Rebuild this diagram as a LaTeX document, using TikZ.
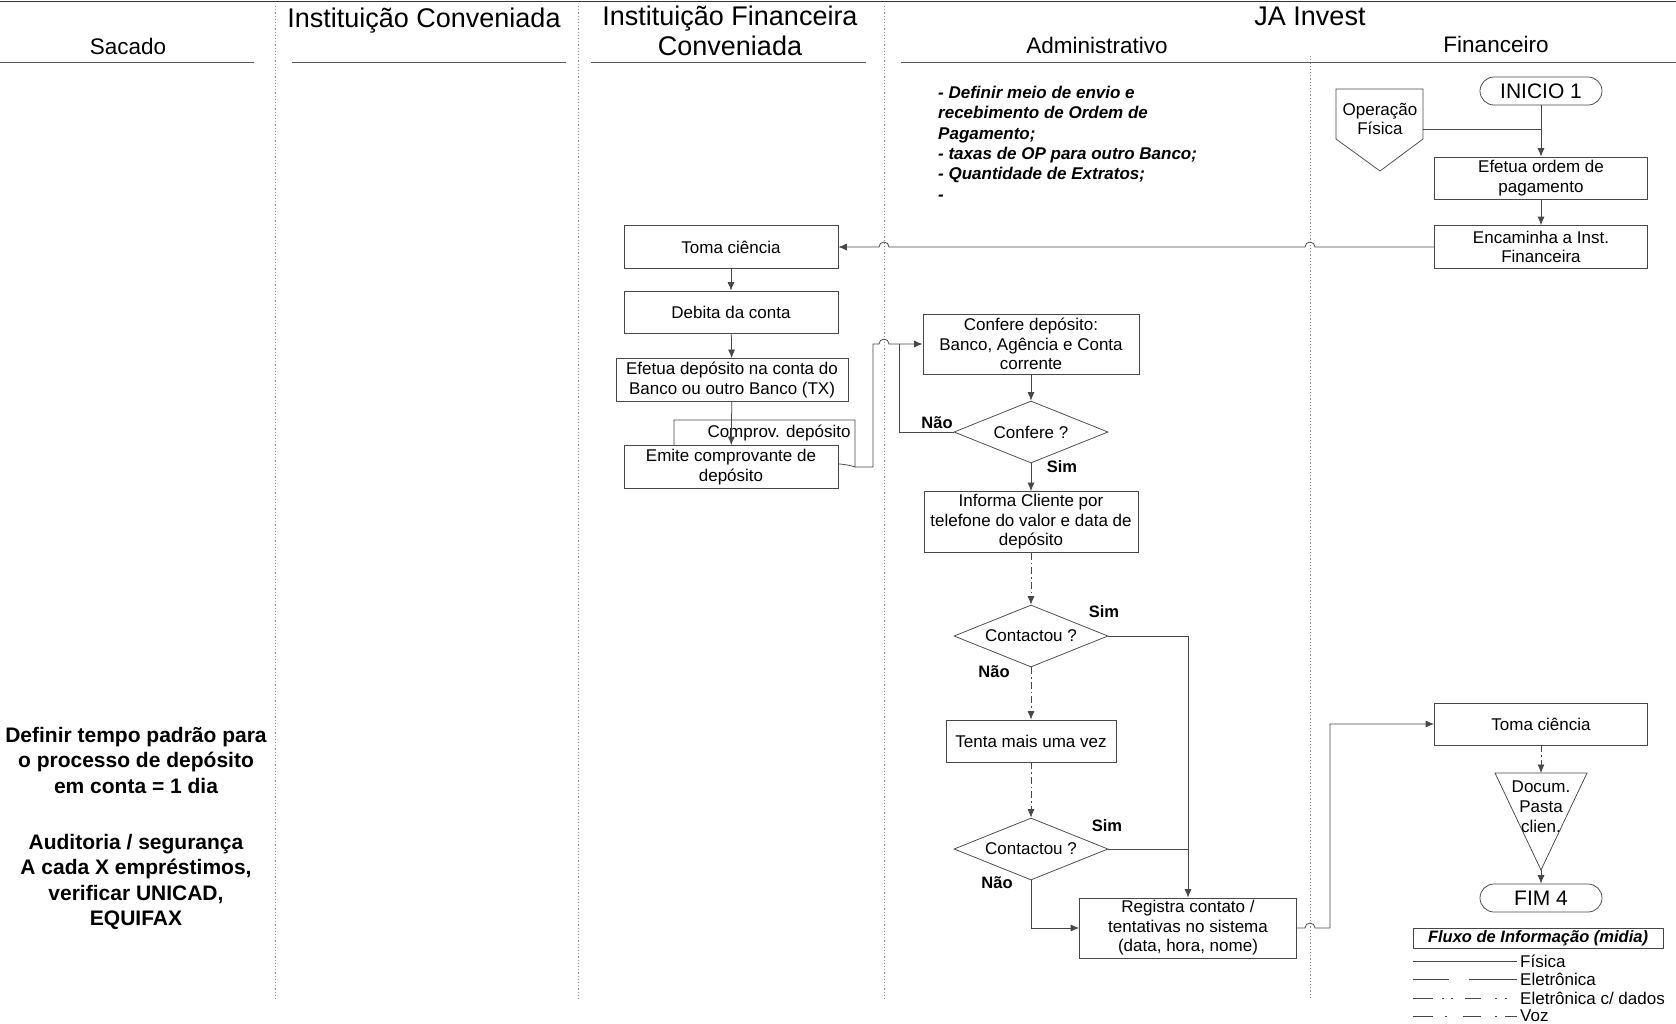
\documentclass[tikz,border=0pt]{standalone}
\usepackage{fontspec}
\setmainfont{Liberation Sans}
\usetikzlibrary{arrows.meta,shapes.geometric,calc}

\tikzset{
  ln/.style={draw=black!72, line width=0.75pt},
  flow/.style={ln, -{Latex[length=8.5pt,width=7pt]}},
  voz/.style={dash pattern=on 7pt off 3pt on 1.5pt off 3pt},
  stepbox/.style={ln, fill=white, align=center, inner sep=1pt,
    font=\fontsize{17}{19.5}\selectfont},
  term/.style={ln, fill=white, rounded corners=14pt, minimum width=122pt,
    minimum height=28pt, inner sep=0pt, font=\fontsize{21}{24}\selectfont},
  dia/.style={ln, fill=white, diamond, inner sep=0pt, minimum width=154pt,
    minimum height=62pt, label={[font=\fontsize{17}{20}\selectfont]center:#1}},
  yn/.style={font=\bfseries\fontsize{16.5}{19}\selectfont, inner sep=1pt},
  lane/.style={draw=black!45, line width=0.6pt, dash pattern=on 1.2pt off 2pt},
  hdr/.style={font=\fontsize{27}{30}\selectfont, align=center, inner sep=0pt},
  subhdr/.style={font=\fontsize{22.5}{26}\selectfont, inner sep=0pt},
  rule/.style={draw=black!65, line width=0.8pt},
  notebold/.style={font=\bfseries\fontsize{21}{25.5}\selectfont, align=center},
}

\begin{document}
\begin{tikzpicture}[x=1pt,y=-1pt]
\useasboundingbox (0,0) rectangle (1676,1023);
\fill[white] (0,0) rectangle (1676,1023);

% ---------- lanes and headers ----------
\coordinate (d1) at (275,0);
\coordinate (d2) at (578,0);
\coordinate (d3) at (884,0);
\coordinate (d4) at (1310,0);
\draw[lane] (275,6) -- (275,1000);
\draw[lane] (578,6) -- (578,1000);
\draw[lane] (884,6) -- (884,1000);
\draw[lane] (1310,56) -- (1310,1000);

\draw[draw=black!80, line width=1.5pt] (0,1.5) -- (1676,1.5);

\node[subhdr] (hSac) at (128,46) {Sacado};
\node[hdr] (hIC) at (424,21) {Instituição Conveniada};
\node[hdr] (hIFC) at (730,31) {Instituição Financeira\\Conveniada};
\node[hdr] (hJA) at (1310,16) {JA Invest};
\node[subhdr] (hAdm) at (1097,45) {Administrativo};
\node[subhdr] (hFin) at (1496,44) {Financeiro};

\draw[rule] (0,62) -- (254,62);
\draw[rule] (292,62) -- (566,62);
\draw[rule] (591,62) -- (866,62);
\draw[rule] (901,62) -- (1676,62);

% ---------- notes ----------
\node[anchor=north west, align=left, inner sep=0pt,
      font=\bfseries\itshape\fontsize{17}{20.3}\selectfont] (nota) at (938,86)
  {- Definir meio de envio e\\recebimento de Ordem de\\Pagamento;\\- taxas de OP para outro Banco;\\- Quantidade de Extratos;\\-};

\node[notebold] (tempo) at (136,760)
  {Definir tempo padrão para\\o processo de depósito\\em conta = 1 dia};
\node[notebold] (audit) at (136,882)
  {Auditoria / segurança\\A cada X empréstimos,\\verificar UNICAD,\\EQUIFAX};

% ---------- Financeiro: start ----------
\node[term] (inicio) at (1541,91) {INICIO 1};

\draw[ln, fill=white] (1336,89) -- (1423,89) -- (1423,139) -- (1380,171) -- (1336,139) -- cycle;
\node[align=center, inner sep=0pt, font=\fontsize{17}{19}\selectfont] (opf) at (1380,119) {Operação\\Física};
\coordinate (opf-e) at (1423,129);

\node[stepbox, minimum width=213pt, minimum height=42pt] (ordem) at (1541,178) {Efetua ordem de\\pagamento};
\node[stepbox, minimum width=213pt, minimum height=43pt] (enc) at (1541,247) {Encaminha a Inst.\\Financeira};

% ---------- Instituicao Financeira Conveniada ----------
\node[stepbox, minimum width=214pt, minimum height=43pt] (toma1) at (731,247) {Toma ciência};
\node[stepbox, minimum width=214pt, minimum height=42pt] (debita) at (731,312) {Debita da conta};
\node[stepbox, minimum width=232pt, minimum height=43pt] (efdep) at (732,380) {Efetua depósito na conta do\\Banco ou outro Banco (TX)};

% deposit slip (document shape) behind the issuing step
\draw[ln, fill=white] (674,470) -- (674,420) -- (855,420) -- (855,467)
  .. controls (820,455) and (760,480) .. (674,466);
\node[inner sep=0pt, font=\fontsize{17}{19}\selectfont] (comprov) at (779,433) {Comprov. depósito};
\coordinate (comp-se) at (855,467);

\node[stepbox, minimum width=214pt, minimum height=43pt] (emite) at (731,467) {Emite comprovante de\\depósito};

% ---------- Administrativo ----------
\node[stepbox, minimum width=216pt, minimum height=60pt] (confdep) at (1031,344) {Confere depósito:\\Banco, Agência e Conta\\corrente};
\node[dia={Confere ?}] (conf) at (1031,432) {};
\node[stepbox, minimum width=214pt, minimum height=61pt] (informa) at (1031,522) {Informa Cliente por\\telefone do valor e data de\\depósito};
\node[dia={Contactou ?}] (cont1) at (1031,636) {};
\node[stepbox, minimum width=170pt, minimum height=42pt] (tenta) at (1031,741) {Tenta mais uma vez};
\node[dia={Contactou ?}] (cont2) at (1031,849) {};
\node[stepbox, minimum width=217pt, minimum height=60pt] (registra) at (1188,928) {Registra contato /\\tentativas no sistema\\(data, hora, nome)};

\coordinate (jx) at (873,0);
\coordinate (nx) at (899,0);
\coordinate (vx) at (1188,0);
\coordinate (rx) at (1330,0);

% ---------- Financeiro: end ----------
\node[stepbox, minimum width=213pt, minimum height=42pt] (toma2) at (1541,724) {Toma ciência};
\draw[ln, fill=white] (1495,773) -- (1587,773) -- (1541,870) -- cycle;
\node[align=center, inner sep=0pt, font=\fontsize{17}{20}\selectfont] (docum) at (1541,807) {Docum.\\Pasta\\clien.};
\coordinate (doc-n) at (1541,773);
\coordinate (doc-s) at (1541,870);
\node[term] (fim) at (1541,898) {FIM 4};

% ---------- connectors ----------
\draw[flow] (inicio) -- (ordem);
\draw[ln] (opf-e) -- (opf-e -| inicio.south);
\draw[flow] (ordem) -- (enc);
\draw[flow] (enc.west) -- ($(enc.west -| d4)+(5,0)$) arc[start angle=0, end angle=-180, radius=5]
  -- ($(enc.west -| d3)+(5,0)$) arc[start angle=0, end angle=-180, radius=5] -- (toma1.east);
\draw[flow] (toma1) -- (debita);
\draw[flow] (debita) -- (efdep);
\draw[flow] (efdep) -- (emite);
\draw[flow] (comp-se) -- (comp-se -| jx) -- (jx |- confdep.west)
  -- ($(confdep.west -| d3)+(-5,0)$) arc[start angle=180, end angle=360, radius=5] -- (confdep.west);
\draw[ln] (conf.west) -- (conf.west -| nx) -- (nx |- confdep.west);
\node[yn] (nao1) at (937,423) {Não};
\draw[flow] (confdep) -- (conf);
\draw[flow] (conf.south) -- (informa.north);
\node[yn] (sim1) at (1062,467) {Sim};
\draw[flow, voz] (informa.south) -- (cont1.north);
\draw[flow] (cont1.east) -- (cont1.east -| vx) -- (registra.north);
\node[yn] (sim2) at (1104,612) {Sim};
\draw[flow, voz] (cont1.south) -- (tenta.north);
\node[yn] (nao2) at (994,672) {Não};
\draw[flow, voz] (tenta.south) -- (cont2.north);
\draw[ln] (cont2.east) -- (cont2.east -| vx);
\node[yn] (sim3) at (1107,826) {Sim};
\draw[flow] (cont2.south) -- (cont2.south |- registra.west) -- (registra.west);
\node[yn] (nao3) at (997,883) {Não};
\draw[flow] (registra.east) -- ($(registra.east -| d4)+(-5,0)$) arc[start angle=180, end angle=360, radius=5]
  -- (registra.east -| rx) -- (rx |- toma2.west) -- (toma2.west);
\draw[flow, voz] (toma2.south) -- (doc-n);
\draw[flow] (doc-s) -- (fim.north);

% ---------- legend ----------
\node[ln, minimum width=250pt, minimum height=20pt, inner sep=0pt,
      font=\bfseries\itshape\fontsize{16.5}{18}\selectfont] (legend) at (1538,938) {Fluxo de Informação (midia)};
\draw[ln] (1413,961) -- (1517,961);
\draw[ln, dash pattern=on 36pt off 20pt on 48pt] (1413,979) -- (1517,979);
\draw[ln, dash pattern=on 20pt off 9pt on 2pt off 7pt on 2pt off 12pt on 16pt off 14pt on 2pt off 8pt on 2pt] (1413,998) -- (1517,998);
\draw[ln, dash pattern=on 20pt off 12pt on 2pt off 16pt on 18pt off 14pt on 2pt off 8pt on 12pt] (1413,1016) -- (1517,1016);
\begin{scope}[every node/.style={anchor=west, inner sep=0pt, font=\fontsize{17}{18}\selectfont}]
\node (lf) at (1520,961) {Física};
\node (le) at (1520,979) {Eletrônica};
\node (ld) at (1520,998) {Eletrônica c/ dados};
\node (lv) at (1520,1016) {Voz};
\end{scope}
\end{tikzpicture}
\end{document}
